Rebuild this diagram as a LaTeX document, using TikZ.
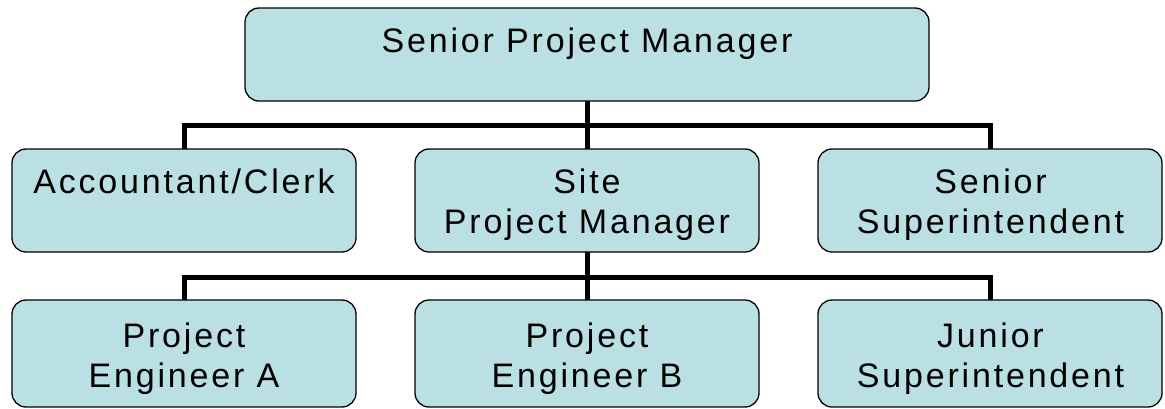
\documentclass[tikz,border=0pt]{standalone}
\usepackage{fontspec}
\setmainfont{Liberation Sans}[LetterSpace=8.3]
\definecolor{boxfill}{RGB}{187,224,227}
\begin{document}
\begin{tikzpicture}[x=1pt,y=-1pt,
  box/.style={draw=black, line width=1.3pt, fill=boxfill, rounded corners=14pt,
              inner sep=0pt, outer sep=0pt, anchor=north west,
              minimum width=344pt},
  conn/.style={draw=black, line width=5pt, line join=miter},
  lbl/.style={anchor=base, inner sep=0pt, font=\fontsize{34}{40}\selectfont}]
\useasboundingbox (0,0) rectangle (1165,408);
% boxes
\node[box, minimum width=684pt, minimum height=93pt] (top) at (245,8) {};
\node[box, minimum height=103pt] (acc)  at (12,149)  {};
\node[box, minimum height=103pt] (site) at (415,149) {};
\node[box, minimum height=103pt] (sen)  at (818,149) {};
\node[box, minimum height=107pt] (pea)  at (12,300)  {};
\node[box, minimum height=107pt] (peb)  at (415,300) {};
\node[box, minimum height=107pt] (jun)  at (818,300) {};
% connectors
\coordinate (h1) at (587,125);
\coordinate (h2) at (587,277);
\draw[conn] (top.south) -- (site.north);
\draw[conn] (acc.north) -- (acc.north |- h1) -- (sen.north |- h1) -- (sen.north);
\draw[conn] (site.south) -- (peb.north);
\draw[conn] (pea.north) -- (pea.north |- h2) -- (jun.north |- h2) -- (jun.north);
% labels
\node[lbl] (tTop) at (587,52) {Senior Project Manager};
\begin{scope}
  \clip (0,140) rectangle (1165,240);
  \node[lbl] (tAcc)  at (184,193) {Accountant/Clerk};
  \node[lbl] (tSite) at (587,193) {\begin{tabular}[t]{@{}c@{}}Site\\Project Manager\end{tabular}};
  \node[lbl] (tSen)  at (990.5,193) {\begin{tabular}[t]{@{}c@{}}Senior\\Superintendent\end{tabular}};
\end{scope}
\node[lbl] (tPea) at (184,347) {\begin{tabular}[t]{@{}c@{}}Project\\Engineer A\end{tabular}};
\node[lbl] (tPeb) at (587,347) {\begin{tabular}[t]{@{}c@{}}Project\\Engineer B\end{tabular}};
\node[lbl] (tJun) at (990.5,347) {\begin{tabular}[t]{@{}c@{}}Junior\\Superintendent\end{tabular}};
\end{tikzpicture}
\end{document}
